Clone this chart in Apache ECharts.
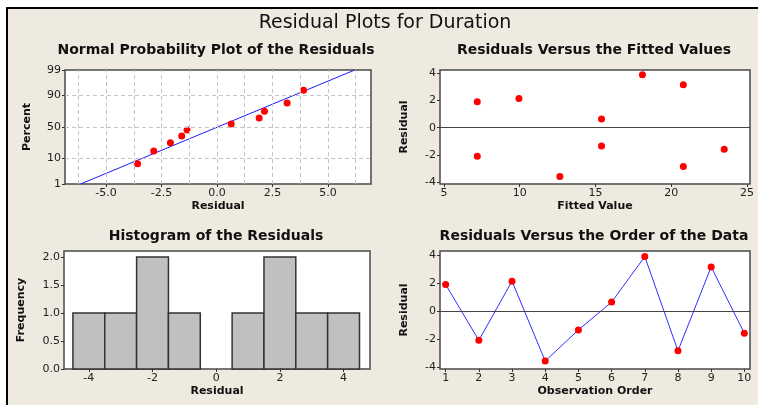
<!DOCTYPE html>
<html><head><meta charset="utf-8">
<script src="https://cdn.jsdelivr.net/npm/echarts@6/dist/echarts.min.js"></script>
<style>
html,body{margin:0;padding:0;background:#fff;}
#frame{position:absolute;left:6px;top:7px;width:752px;height:398px;border-top:2px solid #000;border-left:2px solid #000;background:#EEEAE0;box-sizing:border-box;}
#chart{position:absolute;left:0;top:0;width:758px;height:405px;}
</style></head><body>
<div id="frame"></div><div id="chart"></div>
<script>
// ---- data ----
const observation = [1,2,3,4,5,6,7,8,9,10];
const residuals = [1.9,-2.1,2.14,-3.58,-1.35,0.64,3.9,-2.85,3.16,-1.59];
const fittedValues = [7.2,7.2,9.95,12.65,15.4,15.4,18.1,20.8,20.8,23.5];
const normalPercents = [6.7,16.3,26.0,35.6,45.2,54.8,64.4,74.0,83.7,93.3];
const histBinCenters = [-4,-3,-2,-1,0,1,2,3,4];
const histCounts = [1,1,2,1,0,1,2,1,1];
const percentTicks = [1,10,50,90,99];
const percentGrid = [10,50,90];
const normalXTicks = [-5,-2.5,0,2.5,5];
const normalXGrid = [-6.25,-5,-3.75,-2.5,-1.25,0,1.25,2.5,3.75,5,6.25];
const residualTicks = [-4,-2,0,2,4];
const fittedTicks = [5,10,15,20,25];
const histXTicks = [-4,-2,0,2,4];
const freqTicks = [0,0.5,1,1.5,2];

// inverse normal CDF (Acklam) – probability scale transform
function zOf(pct){
  const p = pct/100;
  const a=[-3.969683028665376e+01,2.209460984245205e+02,-2.759285104469687e+02,1.383577518672690e+02,-3.066479806614716e+01,2.506628277459239e+00];
  const b=[-5.447609879822406e+01,1.615858368580409e+02,-1.556989798598866e+02,6.680131188771972e+01,-1.328068155288572e+01];
  const c=[-7.784894002430293e-03,-3.223964580411365e-01,-2.400758277161838e+00,-2.549732539343734e+00,4.374664141464968e+00,2.938163982698783e+00];
  const d=[7.784695709041462e-03,3.224671290700398e-01,2.445134137142996e+00,3.754408661907416e+00];
  const pl=0.02425;
  let q,r;
  if(p<pl){q=Math.sqrt(-2*Math.log(p));return (((((c[0]*q+c[1])*q+c[2])*q+c[3])*q+c[4])*q+c[5])/((((d[0]*q+d[1])*q+d[2])*q+d[3])*q+1);}
  if(p>1-pl){q=Math.sqrt(-2*Math.log(1-p));return -(((((c[0]*q+c[1])*q+c[2])*q+c[3])*q+c[4])*q+c[5])/((((d[0]*q+d[1])*q+d[2])*q+d[3])*q+1);}
  q=p-0.5;r=q*q;
  return (((((a[0]*r+a[1])*r+a[2])*r+a[3])*r+a[4])*r+a[5])*q/(((((b[0]*r+b[1])*r+b[2])*r+b[3])*r+b[4])*r+1);
}

const n = residuals.length;
const mean = residuals.reduce((s,v)=>s+v,0)/n;
const sd = Math.sqrt(residuals.reduce((s,v)=>s+(v-mean)*(v-mean),0)/(n-1));
const sortedRes = residuals.slice().sort((x,y)=>x-y);
const fitPct = [1,99];

const FONT = 'DejaVu Sans';
const tickLabel = {fontFamily:FONT, fontSize:11, color:'#222', margin:4};
const nameStyle = {fontFamily:FONT, fontSize:11, fontWeight:'bold', color:'#111'};
const tick = {show:true, inside:false, length:3, lineStyle:{color:'#333', width:1}};

function xAx(grid, min, max, ticks, name, fmt){
  return {type:'value', gridIndex:grid, min, max, name, nameLocation:'middle', nameGap:17, nameTextStyle:nameStyle,
    axisLine:{show:false, onZero:false}, splitLine:{show:false},
    axisTick:Object.assign({customValues:ticks}, tick),
    axisLabel:Object.assign({customValues:ticks, formatter:fmt||(v=>String(v))}, tickLabel)};
}
function yAx(grid, min, max, ticks, name, gap, fmt){
  return {type:'value', gridIndex:grid, min, max, name, nameLocation:'middle', nameGap:gap, nameTextStyle:nameStyle,
    axisLine:{show:false, onZero:false}, splitLine:{show:false},
    axisTick:Object.assign({customValues:ticks}, tick),
    axisLabel:Object.assign({customValues:ticks, formatter:fmt||(v=>String(v))}, tickLabel)};
}
const gridBase = {show:true, backgroundColor:'#fff', borderColor:'#4a4a4a', borderWidth:1.5, containLabel:false, outerBoundsMode:'none'};
const titleStyle = {fontFamily:FONT, fontSize:14, fontWeight:'bold', color:'#111'};
const redDot = {color:'#ff0000', opacity:1};

const option = {
  animation:false,
  title:[
    {text:'Residual Plots for Duration', left:385, top:14, textAlign:'center', padding:0, textStyle:{fontFamily:FONT, fontSize:19, fontWeight:'normal', color:'#111'}},
    {text:'Normal Probability Plot of the Residuals', left:216, top:43, textAlign:'center', padding:0, textStyle:titleStyle},
    {text:'Residuals Versus the Fitted Values', left:594, top:43, textAlign:'center', padding:0, textStyle:titleStyle},
    {text:'Histogram of the Residuals', left:216, top:229, textAlign:'center', padding:0, textStyle:titleStyle},
    {text:'Residuals Versus the Order of the Data', left:594, top:229, textAlign:'center', padding:0, textStyle:titleStyle}
  ],
  grid:[
    Object.assign({left:65, top:70, width:306, height:114}, gridBase),
    Object.assign({left:440, top:70, width:310, height:114}, gridBase),
    Object.assign({left:64, top:251, width:306, height:118}, gridBase),
    Object.assign({left:440, top:251, width:310, height:118}, gridBase)
  ],
  xAxis:[
    xAx(0, -6.85, 6.94, normalXTicks, 'Residual', v=>v.toFixed(1)),
    xAx(1, 4.74, 25.2, fittedTicks, 'Fitted Value'),
    xAx(2, -4.78, 4.83, histXTicks, 'Residual'),
    xAx(3, 0.83, 10.17, observation, 'Observation Order')
  ],
  yAxis:[
    yAx(0, zOf(1), zOf(99), percentTicks.map(zOf), 'Percent', 32, v=>{const p=percentTicks.find(p=>Math.abs(zOf(p)-v)<1e-6);return p===undefined?'':String(p);}),
    yAx(1, -4.14, 4.24, residualTicks, 'Residual', 30),
    yAx(2, 0, 2.107, freqTicks, 'Frequency', 37, v=>v.toFixed(1)),
    yAx(3, -4.15, 4.3, residualTicks, 'Residual', 30)
  ],
  series:[
    // normal plot grid lines
    {type:'line', xAxisIndex:0, yAxisIndex:0, data:[], z:1, silent:true,
      markLine:{silent:true, symbol:['none','none'], label:{show:false}, animation:false,
        lineStyle:{type:[4,3], color:'#c4c4c4', width:1},
        data: normalXGrid.map(v=>({xAxis:v})).concat(percentGrid.map(p=>({yAxis:zOf(p)})))}},
    {type:'line', xAxisIndex:0, yAxisIndex:0, z:3, symbol:'none', silent:true,
      lineStyle:{color:'#1a1aff', width:1},
      data: fitPct.map(p=>[mean+sd*zOf(p), zOf(p)])},
    {type:'scatter', xAxisIndex:0, yAxisIndex:0, z:4, symbolSize:7, itemStyle:redDot,
      data: sortedRes.map((r,i)=>[r, zOf(normalPercents[i])])},
    // fitted
    {type:'line', xAxisIndex:1, yAxisIndex:1, data:[], z:1, silent:true,
      markLine:{silent:true, symbol:['none','none'], label:{show:false}, animation:false,
        lineStyle:{type:'solid', color:'#444', width:1}, data:[{yAxis:0}]}},
    {type:'scatter', xAxisIndex:1, yAxisIndex:1, z:4, symbolSize:7, itemStyle:redDot,
      data: fittedValues.map((f,i)=>[f, residuals[i]])},
    // histogram
    {type:'custom', xAxisIndex:2, yAxisIndex:2, z:2,
      data: histBinCenters.map((c,i)=>[c-0.5, c+0.5, histCounts[i]]),
      encode:{x:[0,1], y:2},
      renderItem:function(params, api){
        if(api.value(2)<=0) return null;
        const p0 = api.coord([api.value(0), api.value(2)]);
        const p1 = api.coord([api.value(1), 0]);
        return {type:'rect', shape:{x:p0[0], y:p0[1], width:p1[0]-p0[0], height:p1[1]-p0[1]},
          style:{fill:'#c0c0c0', stroke:'#333', lineWidth:1.5}};
      }},
    // order
    {type:'line', xAxisIndex:3, yAxisIndex:3, data:[], z:1, silent:true,
      markLine:{silent:true, symbol:['none','none'], label:{show:false}, animation:false,
        lineStyle:{type:'solid', color:'#444', width:1}, data:[{yAxis:0}]}},
    {type:'line', xAxisIndex:3, yAxisIndex:3, z:4, symbol:'circle', symbolSize:7,
      lineStyle:{color:'#3030ff', width:1}, itemStyle:redDot,
      data: observation.map((o,i)=>[o, residuals[i]])}
  ]
};
const chart = echarts.init(document.getElementById('chart'), null, {renderer:'canvas'});
chart.setOption(option);
</script>
</body></html>
